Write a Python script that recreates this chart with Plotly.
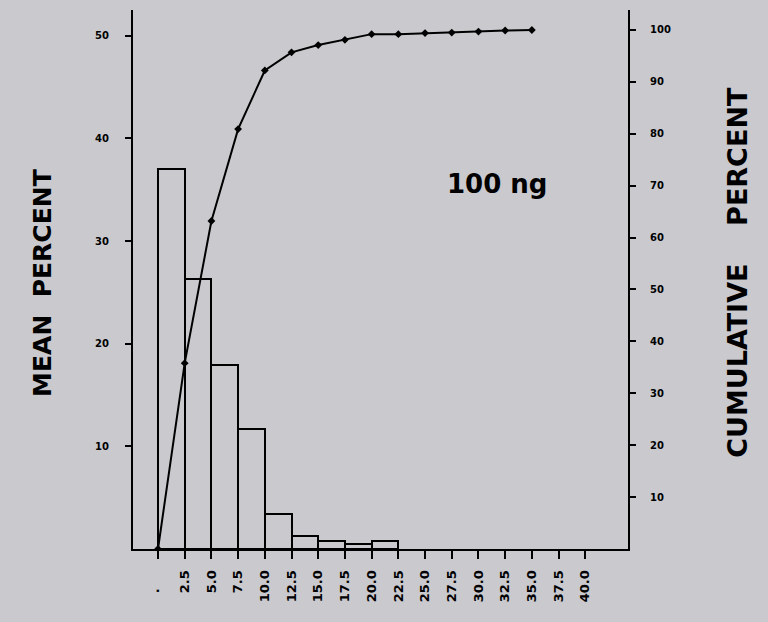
import plotly.graph_objects as go

# Data
bin_starts = [0, 2.5, 5.0, 7.5, 10.0, 12.5, 15.0, 17.5, 20.0]
mean_percent = [37.0, 26.3, 17.9, 11.7, 3.4, 1.3, 0.8, 0.5, 0.8]

cum_x = [0, 2.5, 5.0, 7.5, 10.0, 12.5, 15.0, 17.5, 20.0, 22.5, 25.0, 27.5, 30.0, 32.5, 35.0]
cum_percent = [0, 35.8, 63.2, 80.9, 92.2, 95.7, 97.1, 98.1, 99.2, 99.2, 99.4, 99.5, 99.7, 99.9, 100.0]

x_tickvals = [0, 2.5, 5.0, 7.5, 10.0, 12.5, 15.0, 17.5, 20.0, 22.5, 25.0, 27.5, 30.0, 32.5, 35.0, 37.5, 40.0]
x_ticktext = ["\u00b7" + "\u00a0" * 4, "2.5", "5.0", "7.5", "10.0", "12.5", "15.0", "17.5", "20.0",
              "22.5", "25.0", "27.5", "30.0", "32.5", "35.0", "37.5", "40.0"]
left_ticks = [10, 20, 30, 40, 50]
right_ticks = [10, 20, 30, 40, 50, 60, 70, 80, 90, 100]

BG = "rgb(201,201,206)"
FONT = "DejaVu Sans"

fig = go.Figure()
fig.add_trace(go.Bar(
    x=bin_starts, y=mean_percent, width=2.5, offset=0,
    marker=dict(color="rgba(0,0,0,0)", line=dict(color="black", width=2)),
    showlegend=False, yaxis="y",
))
fig.add_trace(go.Scatter(
    x=cum_x, y=cum_percent, mode="lines+markers",
    line=dict(color="black", width=2),
    marker=dict(symbol="diamond", size=6, color="black"),
    showlegend=False, yaxis="y2",
))

fig.add_annotation(x=31.7, y=35.6, xref="x", yref="y", text="100 ng", showarrow=False,
                   font=dict(family=FONT, size=26, color="black", weight="bold"))

# axis titles placed as rotated text
fig.add_annotation(x=-0.184, y=0.4935, xref="paper", yref="paper", text="MEAN\u00a0\u00a0PERCENT",
                   textangle=-90, showarrow=False, xanchor="center", yanchor="middle",
                   font=dict(family=FONT, size=25, color="black", weight="bold"))
fig.add_annotation(x=1.222, y=0.514, xref="paper", yref="paper",
                   text="CUMULATIVE\u00a0\u00a0\u00a0\u00a0PERCENT",
                   textangle=-90, showarrow=False, xanchor="center", yanchor="middle",
                   font=dict(family=FONT, size=27, color="black", weight="bold"))

fig.update_layout(
    width=768, height=622,
    margin=dict(l=133, r=140, t=10, b=73),
    paper_bgcolor=BG, plot_bgcolor=BG,
    bargap=0,
    font=dict(family=FONT, color="black"),
    xaxis=dict(
        range=[-2.34, 44.0], showline=True, linecolor="black", linewidth=2,
        ticks="outside", ticklen=8, tickwidth=2, tickcolor="black",
        tickvals=x_tickvals, ticktext=x_ticktext, tickangle=-90,
        ticklabelstandoff=6,
        tickfont=dict(family=FONT, size=13, weight="bold"),
        showgrid=False, zeroline=False,
    ),
    yaxis=dict(
        range=[0, 52.5], showline=True, linecolor="black", linewidth=2,
        ticks="outside", ticklen=6, tickwidth=2, tickcolor="black",
        tickvals=left_ticks, ticklabelstandoff=14,
        tickfont=dict(family=FONT, size=10, weight="bold"),
        showgrid=False, zeroline=False,
    ),
    yaxis2=dict(
        range=[0, 103.85], overlaying="y", side="right", showline=True,
        linecolor="black", linewidth=2,
        ticks="outside", ticklen=6, tickwidth=2, tickcolor="black",
        tickvals=right_ticks, ticklabelstandoff=12,
        tickfont=dict(family=FONT, size=10, weight="bold"),
        showgrid=False, zeroline=False,
    ),
)

fig.write_html(
    "out.html",
    config={"displayModeBar": False},
    post_script="document.body.style.margin='0';document.body.style.background='" + BG + "';",
)
